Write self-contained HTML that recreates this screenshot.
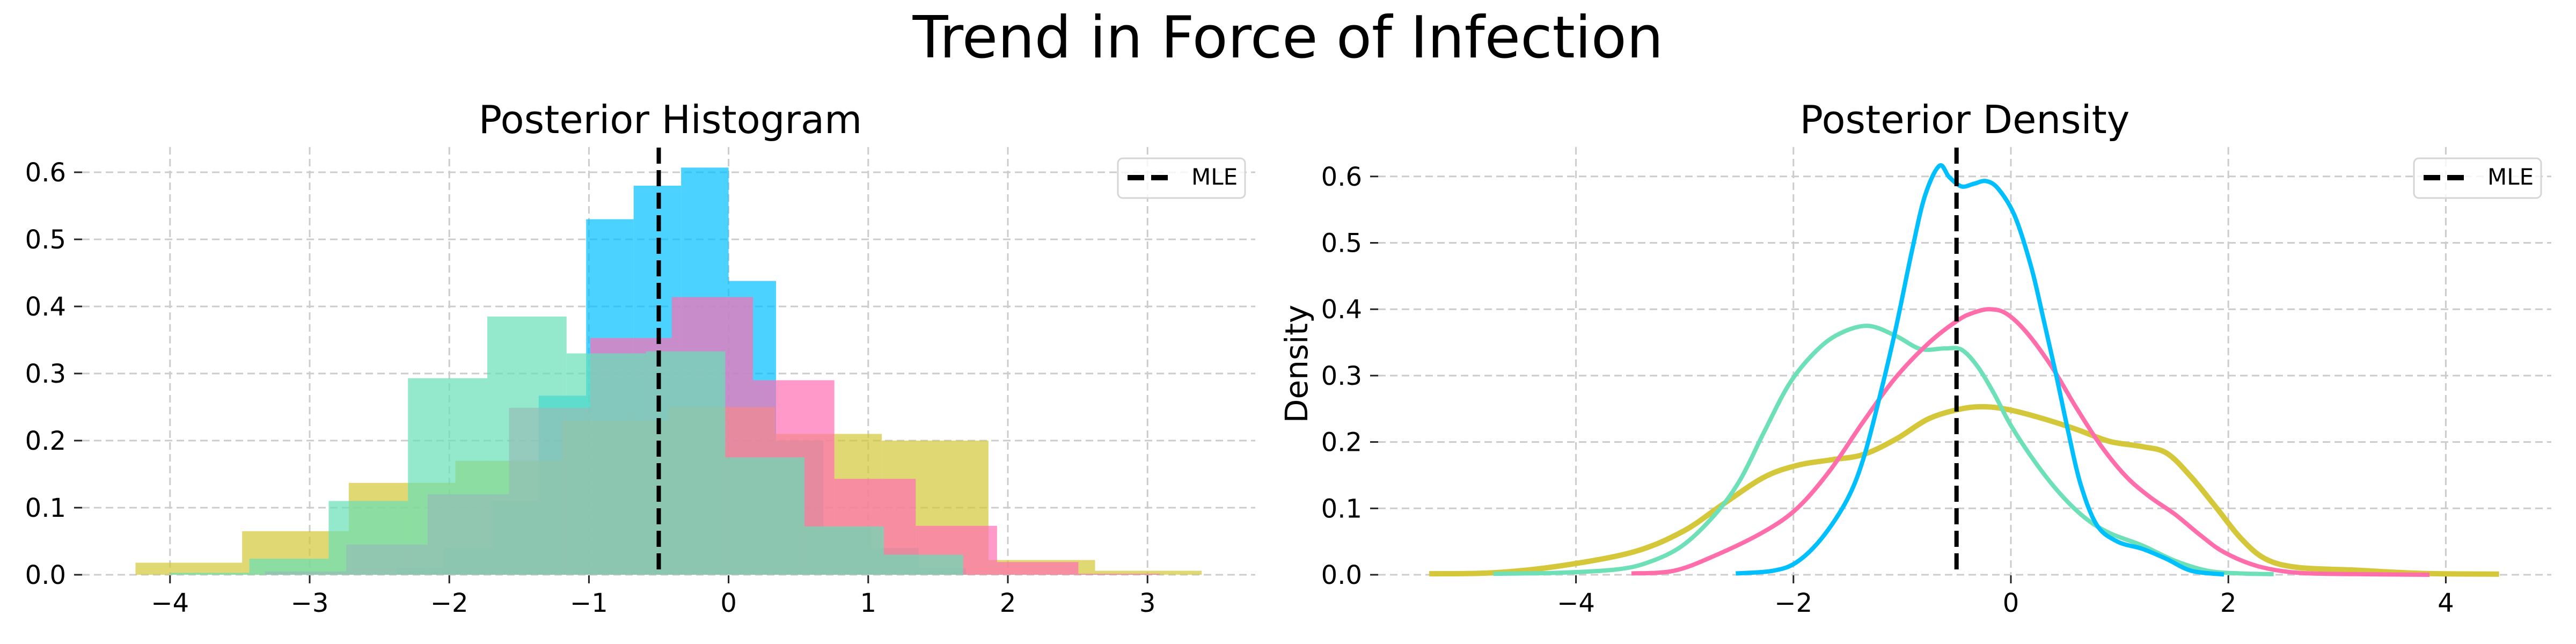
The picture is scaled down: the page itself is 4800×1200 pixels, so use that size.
<!DOCTYPE html>
<html><head><meta charset="utf-8">
<style>
html,body{margin:0;padding:0;background:#fff;}
svg{display:block;font-family:"DejaVu Sans","Liberation Sans",sans-serif;}
</style></head>
<body>
<svg id="fig" width="4800" height="1200" viewBox="0 0 4800 1200" xmlns="http://www.w3.org/2000/svg">
<text x="2400" y="107" font-size="108" text-anchor="middle">Trend in Force of Infection</text>
<text x="1249" y="248" font-size="72" text-anchor="middle">Posterior Histogram</text>
<text x="3661" y="248" font-size="72" text-anchor="middle">Posterior Density</text>
<text x="0" y="0" font-size="58" text-anchor="middle" transform="translate(2436,678) rotate(-90)">Density</text>
<g id="left"></g>
<g id="right"></g>
</svg>
<script>
// ---- data ----
const yTicks = [0.0, 0.1, 0.2, 0.3, 0.4, 0.5, 0.6];
const histXTicks = [-4, -3, -2, -1, 0, 1, 2, 3];
const densXTicks = [-4, -2, 0, 4, 2];
const mle = -0.5;

const blueStart = -2.38, blueWidth = 0.34;
const blueHeights = [0.01, 0.04, 0.11, 0.267, 0.53, 0.58, 0.607, 0.438, 0.2, 0.07, 0.04, 0.01];
const yellowStart = -4.247, yellowWidth = 0.7635;
const yellowHeights = [0.018, 0.065, 0.137, 0.17, 0.23, 0.25, 0.21, 0.20, 0.022, 0.006];
const pinkStart = -3.32, pinkWidth = 0.5825;
const pinkHeights = [0.005, 0.045, 0.12, 0.249, 0.353, 0.414, 0.29, 0.143, 0.073, 0.019, 0.0015];
const mintStart = -4.0, mintWidth = 0.568;
const mintHeights = [0.003, 0.024, 0.11, 0.293, 0.385, 0.33, 0.333, 0.175, 0.072, 0.03];

const blueKx = [-2.53,-2.19,-1.97,-1.74,-1.51,-1.36,-1.21,-1.06,-0.91,-0.79,-0.658,-0.567,-0.454,-0.34,-0.227,-0.114,0.037,0.188,0.30,0.415,0.528,0.64,0.79,0.98,1.21,1.43,1.66,1.96];
const blueKy = [0.002,0.006,0.019,0.055,0.112,0.173,0.266,0.37,0.488,0.571,0.616,0.599,0.585,0.589,0.593,0.581,0.54,0.463,0.385,0.302,0.215,0.137,0.075,0.05,0.039,0.024,0.006,0.0005];
const pinkKx = [-3.49,-3.10,-2.72,-2.27,-1.96,-1.66,-1.36,-1.06,-0.756,-0.49,-0.34,-0.19,-0.038,0.15,0.377,0.604,0.83,1.06,1.28,1.51,1.74,1.96,2.27,2.64,3.17,3.85];
const pinkKy = [0.002,0.006,0.029,0.065,0.101,0.158,0.23,0.297,0.349,0.383,0.395,0.40,0.393,0.364,0.313,0.251,0.194,0.148,0.117,0.091,0.06,0.034,0.013,0.003,0.001,0.0];
const mintKx = [-4.76,-4.16,-3.63,-3.33,-3.02,-2.72,-2.49,-2.27,-2.04,-1.81,-1.59,-1.32,-1.06,-0.83,-0.605,-0.454,-0.303,-0.152,0.0,0.226,0.453,0.68,0.906,1.21,1.51,1.81,2.115,2.417];
const mintKy = [0.0015,0.003,0.008,0.019,0.044,0.091,0.143,0.215,0.287,0.334,0.362,0.375,0.36,0.34,0.341,0.339,0.313,0.272,0.225,0.169,0.122,0.086,0.063,0.044,0.021,0.006,0.002,0.001];
const yellowKx = [-5.35,-4.76,-4.16,-3.48,-3.02,-2.65,-2.27,-1.96,-1.66,-1.36,-1.06,-0.756,-0.454,-0.227,0.0,0.30,0.604,0.906,1.21,1.435,1.66,1.89,2.115,2.34,2.64,3.17,3.78,4.49];
const yellowKy = [0.0015,0.003,0.013,0.034,0.065,0.106,0.147,0.165,0.173,0.181,0.204,0.235,0.25,0.253,0.248,0.235,0.219,0.201,0.193,0.183,0.147,0.101,0.055,0.024,0.011,0.007,0.002,0.001];

// ---- axes ----
const NS = "http://www.w3.org/2000/svg";
function el(tag, attrs, parent) {
  const e = document.createElementNS(NS, tag);
  for (const k in attrs) e.setAttribute(k, attrs[k]);
  parent.appendChild(e);
  return e;
}
const LX = v => 1357.6 + 260.2 * v;
const LY = v => 1071 - 1250 * v;
const RX = v => 3747 + 202.6 * v;
const RY = v => 1071 - 1237 * v;

function drawAxes(g, X, Y, xticks, left, right) {
  yTicks.forEach(t => {
    const l = el('line', {x1: left, x2: right, y1: Y(t), y2: Y(t), stroke: '#cccccc', 'stroke-width': 3, 'stroke-dasharray': '14 8'}, g);
    
    
    const tk = el('line', {x1: left - 15, x2: left, y1: Y(t), y2: Y(t), stroke: '#222', 'stroke-width': 3}, g);
    
    
    const tx = el('text', {x: left - 30, y: Y(t) + 17, 'font-size': 48, 'text-anchor': 'end'}, g);
    tx.textContent = t.toFixed(1);
    
    
  });
  xticks.forEach(t => {
    const l = el('line', {x1: X(t), x2: X(t), y1: 274, y2: 1071, stroke: '#cccccc', 'stroke-width': 3, 'stroke-dasharray': '14 8'}, g);
    
    
    const tk = el('line', {x1: X(t), x2: X(t), y1: 1072, y2: 1087, stroke: '#222', 'stroke-width': 3}, g);
    
    
    const tx = el('text', {x: X(t), y: 1140, 'font-size': 48, 'text-anchor': 'middle'}, g);
    tx.textContent = t < 0 ? '\u2212' + Math.abs(t) : String(t);
    
    
  });
}
function drawMLE(g, X) {
  const m = el('line', {x1: X(mle), x2: X(mle), y1: 275, y2: 1071, stroke: '#000', 'stroke-width': 8, 'stroke-dasharray': '30 12'}, g);
  
  
}
function drawLegend(g, x0) {
  const lg = el('g', {}, g);
  
  
  el('rect', {x: x0, y: 295, width: 237, height: 74, rx: 9, fill: 'rgba(255,255,255,0.8)', stroke: '#d6d6d6', 'stroke-width': 3}, lg);
  const s = el('line', {x1: x0 + 18, x2: x0 + 93, y1: 331, y2: 331, stroke: '#000', 'stroke-width': 10, 'stroke-dasharray': '31 13'}, lg);
  
  
  const t = el('text', {x: x0 + 137, y: 344, 'font-size': 42}, lg);
  t.textContent = 'MLE';
  
  
}

const L = document.getElementById('left');
const R = document.getElementById('right');
drawAxes(L, LX, LY, histXTicks, 153, 2339);
drawAxes(R, RX, RY, densXTicks, 2568, 4754);

function drawHist(start, width, heights, color, name) {
  heights.forEach((h, i) => {
    const x0 = start + i * width;
    const r = el('rect', {x: LX(x0), y: LY(h), width: LX(x0 + width) - LX(x0), height: LY(0) - LY(h), fill: color, 'fill-opacity': 0.7}, L);
    
    
  });
}
drawHist(blueStart, blueWidth, blueHeights, '#00bfff', 'blue');
drawHist(yellowStart, yellowWidth, yellowHeights, '#d3c737', 'yellow');
drawHist(pinkStart, pinkWidth, pinkHeights, '#ff6eb4', 'pink');
drawHist(mintStart, mintWidth, mintHeights, '#67e0b6', 'mint');
drawMLE(L, LX);
drawLegend(L, 2083);

function smoothPath(xs, ys) {
  const p = xs.map((x, i) => [RX(x), RY(ys[i])]);
  let d = 'M' + p[0][0] + ',' + p[0][1];
  for (let i = 0; i < p.length - 1; i++) {
    const p0 = p[Math.max(0, i - 1)], p1 = p[i], p2 = p[i + 1], p3 = p[Math.min(p.length - 1, i + 2)];
    const c1x = p1[0] + (p2[0] - p0[0]) / 6, c1y = p1[1] + (p2[1] - p0[1]) / 6;
    const c2x = p2[0] - (p3[0] - p1[0]) / 6, c2y = p2[1] - (p3[1] - p1[1]) / 6;
    d += ' C' + c1x + ',' + c1y + ' ' + c2x + ',' + c2y + ' ' + p2[0] + ',' + p2[1];
  }
  return d;
}
function drawKde(xs, ys, color, w, name) {
  const path = el('path', {d: smoothPath(xs, ys), fill: 'none', stroke: color, 'stroke-width': w, 'stroke-linejoin': 'round', 'stroke-linecap': 'butt'}, R);
  
  
}
drawKde(yellowKx, yellowKy, '#d4c83a', 10, 'yellow');
drawKde(mintKx, mintKy, '#6ee0b8', 8, 'mint');
drawKde(pinkKx, pinkKy, '#ff6eaa', 8, 'pink');
drawKde(blueKx, blueKy, '#00bfff', 8, 'blue');
drawMLE(R, RX);
drawLegend(R, 4498);
</script>
</body></html>
